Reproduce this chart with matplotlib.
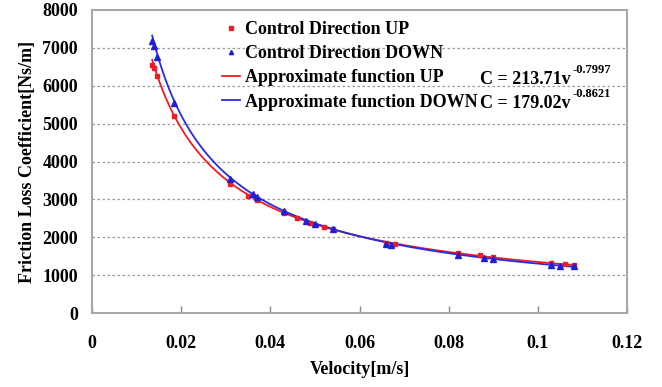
import numpy as np
import matplotlib
matplotlib.use("Agg")
import matplotlib.pyplot as plt

# ---- data ----
v_up = [0.0135, 0.0138, 0.0145, 0.0185, 0.031, 0.035, 0.037, 0.043, 0.046, 0.049,
        0.052, 0.054, 0.066, 0.068, 0.082, 0.087, 0.090, 0.103, 0.106, 0.108]
c_up = [6550, 6480, 6250, 5200, 3400, 3100, 2980, 2650, 2500, 2380,
        2280, 2220, 1850, 1820, 1580, 1520, 1480, 1320, 1300, 1280]
v_down = [0.0135, 0.0140, 0.0145, 0.0185, 0.031, 0.036, 0.037, 0.043, 0.048, 0.050,
          0.054, 0.066, 0.067, 0.082, 0.088, 0.090, 0.103, 0.105, 0.108]
c_down = [7180, 7050, 6750, 5550, 3550, 3150, 3050, 2700, 2420, 2350,
          2220, 1820, 1800, 1530, 1460, 1420, 1260, 1250, 1230]
a_up, b_up = 213.71, -0.7997
a_down, b_down = 179.02, -0.8621
x_ticks = [0, 0.02, 0.04, 0.06, 0.08, 0.1, 0.12]
x_ticklabels = ["0", "0.02", "0.04", "0.06", "0.08", "0.1", "0.12"]
y_ticks = [0, 1000, 2000, 3000, 4000, 5000, 6000, 7000, 8000]

FONT = "Liberation Serif"
plt.rcParams["font.family"] = [FONT, "DejaVu Serif"]
plt.rcParams["font.weight"] = "bold"

fig = plt.figure(figsize=(6.62, 3.87), dpi=100)
ax = fig.add_axes([92/662, 1-313/387, (627-92)/662, (313-10)/387])

vf = np.linspace(min(v_down), max(v_up), 300)
ax.plot(v_up, c_up, linestyle="none", marker="s", ms=3.0, color="#ee1c25",
        label="Control Direction UP", zorder=3)
ax.plot(v_down, c_down, linestyle="none", marker="^", ms=3.8, color="#1f1fd6",
        label="Control Direction DOWN", zorder=3)
ax.plot(vf, a_up * vf ** b_up, color="#ee1c25", lw=1.3, label="Approximate function UP", zorder=2)
ax.plot(vf, a_down * vf ** b_down, color="#2a2ae0", lw=1.3, label="Approximate function DOWN", zorder=2)

ax.set_xlim(0, 0.12)
ax.set_ylim(0, 8000)
ax.set_xticks(x_ticks)
ax.set_xticklabels(x_ticklabels)
ax.set_yticks(y_ticks)
ax.tick_params(axis="x", direction="in", length=5, width=1, color="#888888", pad=16, labelsize=13)
ax.tick_params(axis="y", length=0, pad=10, labelsize=13)
for lab in ax.get_xticklabels() + ax.get_yticklabels():
    lab.set_fontweight("bold")
    lab.set_fontfamily(FONT)

for y in y_ticks[1:-1]:
    ax.axhline(y, color="#9a9a9a", lw=0.9, ls=(0, (2, 2)), zorder=1)
for s in ax.spines.values():
    s.set_color("#a8a8a8")
    s.set_linewidth(1.5)

ax.set_xlabel("Velocity[m/s]", fontsize=13, fontweight="bold", labelpad=6, fontfamily=FONT)
ax.set_ylabel("Friction Loss Coefficient[Ns/m]", fontsize=13, fontweight="bold", labelpad=5,
              fontfamily=FONT)

leg = ax.legend(loc="upper left", bbox_to_anchor=((222-92)/535, (313-21)/303),
                frameon=False, fontsize=13, handlelength=1.0, handletextpad=0.25,
                labelspacing=0.40, borderaxespad=0, borderpad=0, markerscale=0.8)
for t in leg.get_texts():
    t.set_fontweight("bold")
    t.set_fontfamily(FONT)

def eq(xr, yp, main, expo):
    xa = (xr - 92) / 535
    ya = (313 - yp) / 303
    ax.text(xa, ya, main, transform=ax.transAxes, ha="right", va="center",
            fontsize=13, fontweight="bold", fontfamily=FONT)
    ax.text(xa + 0.002, ya + 0.032, expo, transform=ax.transAxes, ha="left", va="center",
            fontsize=9, fontweight="bold", fontfamily=FONT)

eq(571, 80, "C = 213.71v", "-0.7997")
eq(571, 104, "C = 179.02v", "-0.8621")

fig.savefig("out.png", dpi=100)
